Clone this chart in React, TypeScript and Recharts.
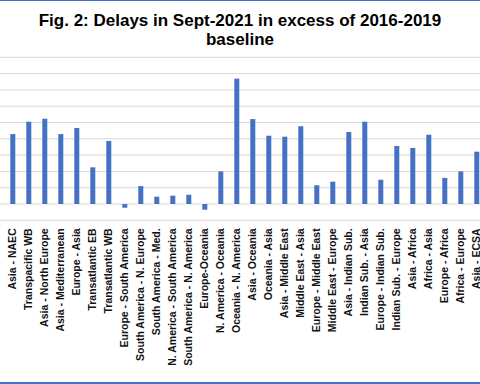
import React from "react";
import { BarChart, Bar, XAxis, YAxis, CartesianGrid } from "recharts";

const routes: string[] = [
  "Asia - NAEC",
  "Transpacific WB",
  "Asia - North Europe",
  "Asia - Mediterranean",
  "Europe - Asia",
  "Transatlantic EB",
  "Transatlantic WB",
  "Europe - South America",
  "South America - N. Europe",
  "South America - Med.",
  "N. America - South America",
  "South America - N. America",
  "Europe-Oceania",
  "N. America - Oceania",
  "Oceania - N. America",
  "Asia - Oceania",
  "Oceania - Asia",
  "Asia - Middle East",
  "Middle East - Asia",
  "Europe - Middle East",
  "Middle East - Europe",
  "Asia - Indian Sub.",
  "Indian Sub. - Asia",
  "Europe - Indian Sub.",
  "Indian Sub. - Europe",
  "Asia - Africa",
  "Africa - Asia",
  "Europe - Africa",
  "Africa - Europe",
  "Asia - ECSA",
];

const excessDelay: number[] = [
  4.29, 5.05, 5.23, 4.29, 4.66, 2.25, 3.87, -0.23, 1.1, 0.45, 0.51, 0.57, -0.35,
  2.0, 7.69, 5.21, 4.19, 4.13, 4.77, 1.15, 1.37, 4.42, 5.05, 1.49, 3.56, 3.44,
  4.25, 1.6, 2.0, 3.21,
];

const yTicks: number[] = [-1, 0, 1, 2, 3, 4, 5, 6, 7, 8, 9];

const titleLines: string[] = [
  "Fig. 2: Delays in Sept-2021 in excess of 2016-2019",
  "baseline",
];

const data = routes.map((name, i) => ({ name, value: excessDelay[i] }));

const FONT = "'Liberation Sans', Arial, sans-serif";

const RouteTick = (props: any) => {
  const { x, y, payload } = props;
  return (
    <text
      x={x}
      y={y}
      transform={`rotate(-90 ${x} ${y})`}
      textAnchor="end"
      dy={3.8}
      fontFamily={FONT}
      fontWeight="bold"
      fontSize={10.5}
      fill="#111"
    >
      {payload.value}
    </text>
  );
};

export default function App() {
  return (
    <div
      style={{
        position: "absolute",
        left: 0,
        top: 0,
        width: 480,
        height: 384,
        overflow: "hidden",
        background: "#fff",
      }}
    >
      <BarChart
        width={500}
        height={384}
        data={data}
        margin={{ top: 57.3, right: 0, bottom: 3.7, left: 0 }}
      >
        <CartesianGrid vertical={false} stroke="#d9d9d9" strokeWidth={1} />
        <YAxis hide domain={[-1, 9]} ticks={yTicks} interval={0} type="number" />
        <XAxis
          dataKey="name"
          interval={0}
          height={160}
          padding={{ left: 4.3, right: 15.7 }}
          axisLine={false}
          tickLine={false}
          tick={<RouteTick />}
        />
        <Bar dataKey="value" fill="#4472C4" barSize={5} isAnimationActive={false} />
      </BarChart>
      <svg
        width={480}
        height={384}
        style={{ position: "absolute", left: 0, top: 0, pointerEvents: "none" }}
      >
        <rect x={0} y={0} width={480} height={1} fill="#4472C4" />
        <rect x={0} y={382} width={480} height={2} fill="#4472C4" />
        <text
          x={240}
          y={25.7}
          textAnchor="middle"
          fontFamily={FONT}
          fontWeight="bold"
          fontSize={17}
          fill="#000"
        >
          {titleLines[0]}
        </text>
        <text
          x={240}
          y={45}
          textAnchor="middle"
          fontFamily={FONT}
          fontWeight="bold"
          fontSize={17}
          fill="#000"
        >
          {titleLines[1]}
        </text>
      </svg>
    </div>
  );
}
